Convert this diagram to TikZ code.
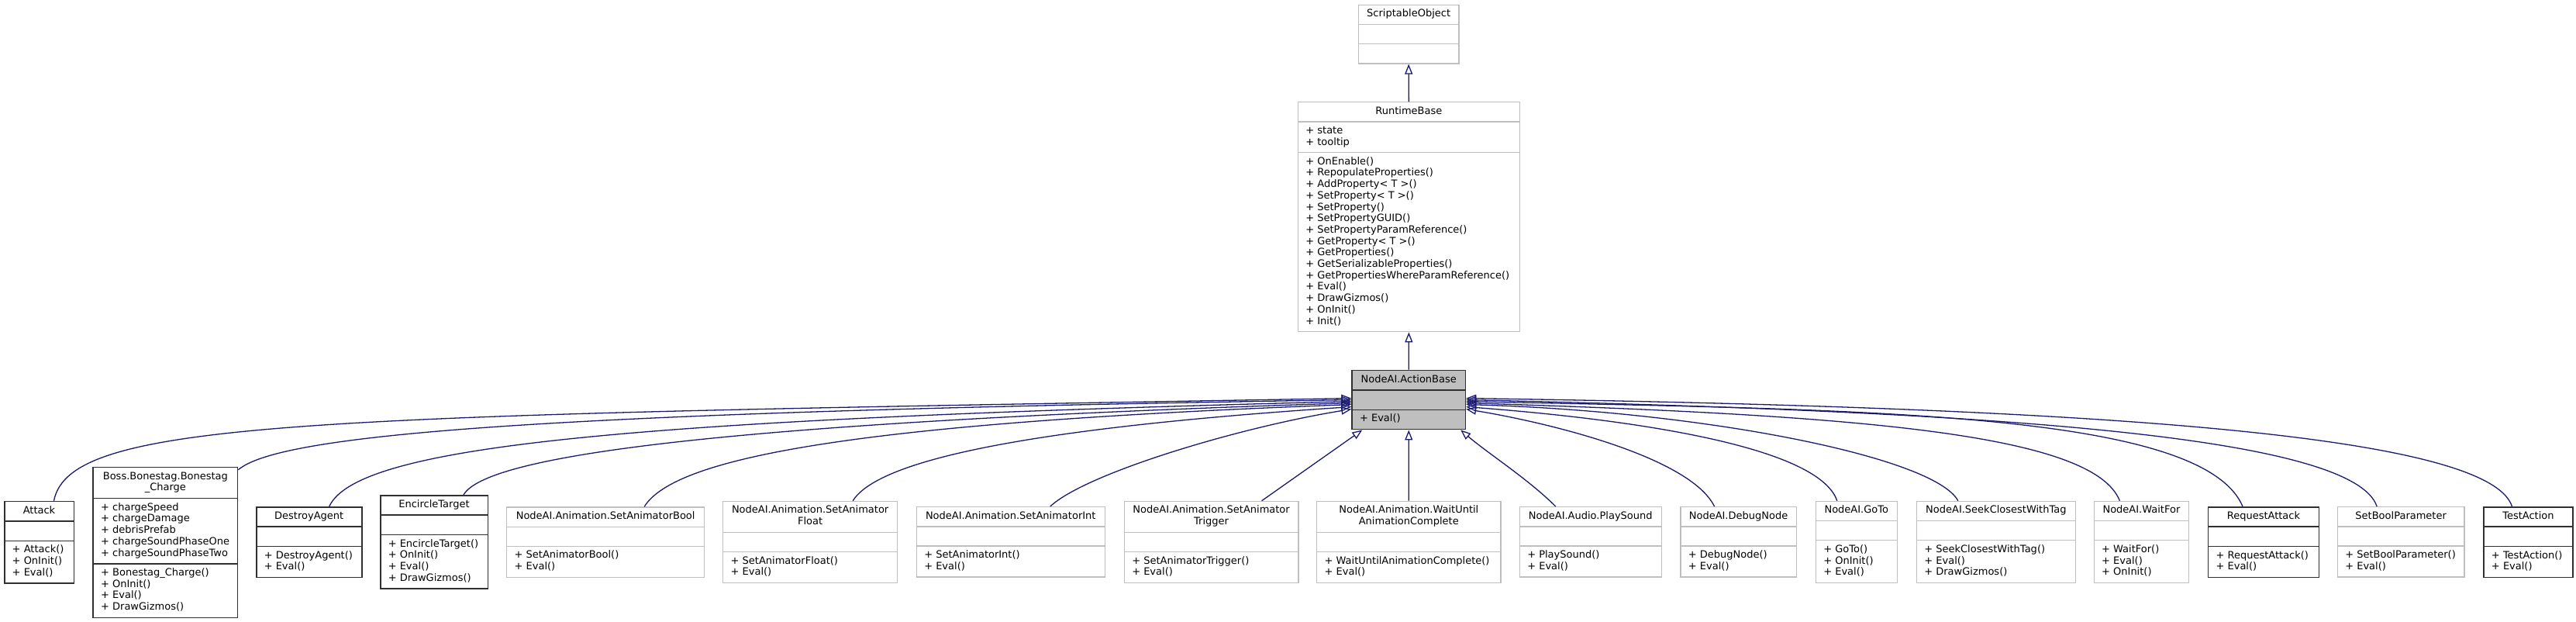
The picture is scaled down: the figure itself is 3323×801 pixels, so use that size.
\documentclass[tikz,border=0pt]{standalone}
\usepackage{fontspec}
\setmainfont{DejaVu Sans}
\usetikzlibrary{shapes.multipart,arrows.meta}
\definecolor{grey75}{RGB}{191,191,191}
\definecolor{edgeblue}{RGB}{25,25,112}
\definecolor{docline}{RGB}{48,48,48}
\newcommand{\clshead}[1]{\begin{tabular}{@{}c@{}}#1\end{tabular}}
\newcommand{\clsrows}[1]{\begin{tabular}{@{}l@{}}#1\end{tabular}}
\tikzset{
	clsbox/.style={rectangle split, rectangle split parts=3,
		rectangle split part align={center,left,left},
		draw=grey75, line width=1.3pt, fill=white, inner xsep=10pt, inner ysep=4.6pt,
		anchor=north west, font=\fontsize{13}{14.7}\selectfont},
	clsdoc/.style={draw=docline, line width=1.5pt},
	clsbase/.style={draw=docline, line width=1.5pt, fill=grey75},
	inherit/.style={draw=edgeblue, line width=1.3pt, -{Triangle[open,length=13pt,width=10pt]}}
}
\begin{document}
\begin{tikzpicture}[x=1pt,y=-1pt]

\useasboundingbox (0,0) rectangle (3323,801);
%
\node[clsbox, minimum width=129.6pt] (scriptable) at (1751.7,5.7) {\clshead{ScriptableObject}\nodepart{two}\strut\nodepart{three}\strut};
\node[clsbox, minimum width=286pt] (runtime) at (1673.7,131) {\clshead{RuntimeBase}\nodepart{two}\clsrows{+ state\\+ tooltip}\nodepart{three}\clsrows{+ OnEnable()\\+ RepopulateProperties()\\+ AddProperty< T >()\\+ SetProperty< T >()\\+ SetProperty()\\+ SetPropertyGUID()\\+ SetPropertyParamReference()\\+ GetProperty< T >()\\+ GetProperties()\\+ GetSerializableProperties()\\+ GetPropertiesWhereParamReference()\\+ Eval()\\+ DrawGizmos()\\+ OnInit()\\+ Init()}};
\node[clsbox, clsbase, minimum width=146.4pt] (actionbase) at (1743.3,476.7) {\clshead{NodeAI.ActionBase}\nodepart{two}\strut\nodepart{three}\clsrows{+ Eval()}};

% derived classes
\node[clsbox, clsdoc, minimum width=89.5pt] (attack) at (5,645.7) {\clshead{Attack}\nodepart{two}\strut\nodepart{three}\clsrows{+ Attack()\\+ OnInit()\\+ Eval()}};
\node[clsbox, clsdoc, minimum width=186.5pt] (boss) at (119.4,601.7) {\clshead{Boss.Bonestag.Bonestag\\\_Charge}\nodepart{two}\clsrows{+ chargeSpeed\\+ chargeDamage\\+ debrisPrefab\\+ chargeSoundPhaseOne\\+ chargeSoundPhaseTwo}\nodepart{three}\clsrows{+ Bonestag\_Charge()\\+ OnInit()\\+ Eval()\\+ DrawGizmos()}};
\node[clsbox, clsdoc, minimum width=136pt] (destroy) at (330,653) {\clshead{DestroyAgent}\nodepart{two}\strut\nodepart{three}\clsrows{+ DestroyAgent()\\+ Eval()}};
\node[clsbox, clsdoc, minimum width=138.5pt] (encircle) at (490,638) {\clshead{EncircleTarget}\nodepart{two}\strut\nodepart{three}\clsrows{+ EncircleTarget()\\+ OnInit()\\+ Eval()\\+ DrawGizmos()}};
\node[clsbox, minimum width=255pt] (animbool) at (653,653.3) {\clshead{NodeAI.Animation.SetAnimatorBool}\nodepart{two}\strut\nodepart{three}\clsrows{+ SetAnimatorBool()\\+ Eval()}};
\node[clsbox, minimum width=225pt] (animfloat) at (932,645.7) {\clshead{NodeAI.Animation.SetAnimator\\Float}\nodepart{two}\strut\nodepart{three}\clsrows{+ SetAnimatorFloat()\\+ Eval()}};
\node[clsbox, minimum width=243pt] (animint) at (1181.6,653) {\clshead{NodeAI.Animation.SetAnimatorInt}\nodepart{two}\strut\nodepart{three}\clsrows{+ SetAnimatorInt()\\+ Eval()}};
\node[clsbox, minimum width=224.7pt] (animtrigger) at (1449.6,645.7) {\clshead{NodeAI.Animation.SetAnimator\\Trigger}\nodepart{two}\strut\nodepart{three}\clsrows{+ SetAnimatorTrigger()\\+ Eval()}};
\node[clsbox, minimum width=237.3pt] (waituntil) at (1698,645.7) {\clshead{NodeAI.Animation.WaitUntil\\AnimationComplete}\nodepart{two}\strut\nodepart{three}\clsrows{+ WaitUntilAnimationComplete()\\+ Eval()}};
\node[clsbox, minimum width=183pt] (playsound) at (1959.6,653) {\clshead{NodeAI.Audio.PlaySound}\nodepart{two}\strut\nodepart{three}\clsrows{+ PlaySound()\\+ Eval()}};
\node[clsbox, minimum width=149.2pt] (debugnode) at (2167.3,653) {\clshead{NodeAI.DebugNode}\nodepart{two}\strut\nodepart{three}\clsrows{+ DebugNode()\\+ Eval()}};
\node[clsbox, minimum width=105pt] (gotonode) at (2341.6,645.7) {\clshead{NodeAI.GoTo}\nodepart{two}\strut\nodepart{three}\clsrows{+ GoTo()\\+ OnInit()\\+ Eval()}};
\node[clsbox, minimum width=205pt] (seek) at (2471.7,645.7) {\clshead{NodeAI.SeekClosestWithTag}\nodepart{two}\strut\nodepart{three}\clsrows{+ SeekClosestWithTag()\\+ Eval()\\+ DrawGizmos()}};
\node[clsbox, minimum width=122.5pt] (waitfor) at (2700.5,645.7) {\clshead{NodeAI.WaitFor}\nodepart{two}\strut\nodepart{three}\clsrows{+ WaitFor()\\+ Eval()\\+ OnInit()}};
\node[clsbox, clsdoc, minimum width=142.8pt] (requestattack) at (2847.8,653) {\clshead{RequestAttack}\nodepart{two}\strut\nodepart{three}\clsrows{+ RequestAttack()\\+ Eval()}};
\node[clsbox, minimum width=163.8pt] (setboolparam) at (3014.6,653) {\clshead{SetBoolParameter}\nodepart{two}\strut\nodepart{three}\clsrows{+ SetBoolParameter()\\+ Eval()}};
\node[clsbox, clsdoc, minimum width=115pt] (testaction) at (3203.2,653) {\clshead{TestAction}\nodepart{two}\strut\nodepart{three}\clsrows{+ TestAction()\\+ Eval()}};

% inheritance
\draw[inherit] (runtime.north) -- (scriptable.south);
\draw[inherit] (actionbase.north) -- (runtime.south);
%\draw[inherit] (attack.north) -- (actionbase.west);
\draw[inherit] ([xshift=19pt]attack.north) .. controls +(21,-106) and +(-1343,23) .. ([yshift=2pt]actionbase.west);
\draw[inherit] ([yshift=-4pt]boss.north east) .. controls +(54,-46) and +(-1043,16) .. (actionbase.west);
\draw[inherit] ([xshift=26pt]destroy.north) .. controls +(36,-78) and +(-943,24) .. ([yshift=-2pt]actionbase.west);
\draw[inherit] ([xshift=38pt]encircle.north) .. controls +(28,-48) and +(-843,27) .. ([yshift=-4pt]actionbase.west);
\draw[inherit] ([xshift=50pt]animbool.north) .. controls +(39,-63) and +(-643,24) .. ([yshift=-6pt]actionbase.west);
\draw[inherit] ([xshift=55pt]animfloat.north) .. controls +(35,-56) and +(-393,26) .. ([yshift=-9pt]actionbase.west);
\draw[inherit] ([xshift=51pt]animint.north) .. controls +(46,-43) and +(-143,23) .. ([yshift=-12pt]actionbase.west);
\draw[inherit] ([xshift=65pt]animtrigger.north) -- ([xshift=14pt]actionbase.south west);
\draw[inherit] (waituntil.north) -- (actionbase.south);
\draw[inherit] ([xshift=-45pt]playsound.north) .. controls +(-35,-35) and +(35,30) .. ([xshift=-7pt]actionbase.south east);
\draw[inherit] ([xshift=-31pt]debugnode.north) .. controls +(-31,-63) and +(110,18) .. ([yshift=-12pt]actionbase.east);
\draw[inherit] ([xshift=-25pt]gotonode.north) .. controls +(-24,-71) and +(210,16) .. ([yshift=-9pt]actionbase.east);
\draw[inherit] ([xshift=-49pt]seek.north) .. controls +(-30,-56) and +(310,9) .. ([yshift=-6pt]actionbase.east);
\draw[inherit] ([xshift=-28pt]waitfor.north) .. controls +(-34,-86) and +(510,16) .. ([yshift=-4pt]actionbase.east);
\draw[inherit] ([xshift=-27pt]requestattack.north) .. controls +(-52,-123) and +(510,11) .. ([yshift=-2pt]actionbase.east);
\draw[inherit] ([xshift=-31pt]setboolparam.north) .. controls +(-31,-93) and +(660,15) .. (actionbase.east);
\draw[inherit] ([xshift=-21pt]testaction.north) .. controls +(-30,-93) and +(810,12) .. ([yshift=2pt]actionbase.east);

\end{tikzpicture}
\end{document}
